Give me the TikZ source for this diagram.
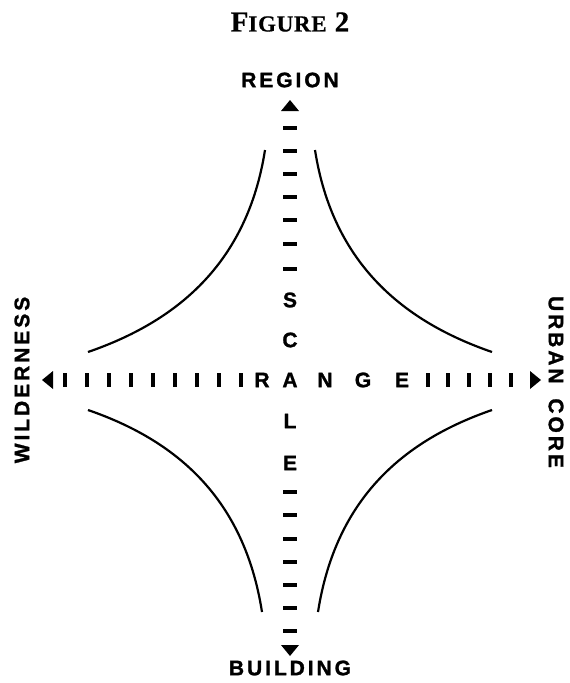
\documentclass[tikz,border=0pt]{standalone}
\usepackage{fontspec}
\setmainfont{Liberation Serif}
\newfontfamily\lab[LetterSpace=14,BoldFeatures={FakeBold=1.3}]{Liberation Sans}
\newfontfamily\axl[BoldFeatures={FakeBold=1.3}]{Liberation Sans}
\newfontfamily\ttl[LetterSpace=3,BoldFeatures={FakeBold=0.6}]{Liberation Serif}
\begin{document}
\begin{tikzpicture}[x=1pt,y=-1pt,
  lbl/.style={font=\lab\bfseries\fontsize{21}{21}\selectfont, inner sep=0pt},
  axlet/.style={font=\axl\bfseries\fontsize{21}{21}\selectfont, inner sep=0pt},
  hmark/.style={line width=3.2pt},
  curv/.style={line width=2.2pt},
  head/.style={fill=black}]
\useasboundingbox (0,0) rectangle (570,683);
% title
\node[inner sep=0pt] (title) at (290,22) {\ttl\bfseries\fontsize{29}{29}\selectfont F\fontsize{23}{23}\selectfont IGURE\fontsize{29}{29}\selectfont{} 2};
% end labels
\node[lbl] (region) at (290,80) {REGION};
\node[lbl] (building) at (290,668) {BUILDING};
\node[lbl, rotate=90] (wild) at (22,380) {WILDERNESS};
\node[lbl, rotate=-90] (urban) at (556,382) {URBAN\hspace{6pt} CORE};
% arrowheads
\coordinate (tT) at (290,100);
\coordinate (tB) at (290,656);
\coordinate (tL) at (42,380);
\coordinate (tR) at (541,380);
\fill[head] (tT) -- ++(-9,11) -- ++(18,0) -- cycle;
\fill[head] (tB) -- ++(-9,-11) -- ++(18,0) -- cycle;
\fill[head] (tL) -- ++(11,-9) -- ++(0,18) -- cycle;
\fill[head] (tR) -- ++(-11,-9) -- ++(0,18) -- cycle;
% vertical dashes
\foreach \y in {128,151,174,197,220,244,269,492,515,539,562,585,608,631}
  \draw[hmark] (283,\y) -- (297,\y);
% horizontal ticks
\foreach \x in {65,87,109,131,153,175,197,219,241,428,448,469,490,511}
  \draw[hmark] (\x,373) -- (\x,387);
% axis letters
\node[axlet] (S) at (290,300) {S};
\node[axlet] (C) at (290,340) {C};
\node[axlet] (A) at (290,380) {A};
\node[axlet] (L) at (290,421) {L};
\node[axlet] (E1) at (290,463) {E};
\node[axlet] (R) at (262,380) {R};
\node[axlet] (N) at (325,380) {N};
\node[axlet] (G) at (363,380) {G};
\node[axlet] (E2) at (402,380) {E};
% curves
\coordinate (c1a) at (265,150); \coordinate (c1b) at (88,352);
\coordinate (c2a) at (315,150); \coordinate (c2b) at (492,352);
\coordinate (c3a) at (88,410);  \coordinate (c3b) at (262,612);
\coordinate (c4a) at (492,410); \coordinate (c4b) at (318,612);
\draw[curv] (c1a) .. controls (247,265) and (175,322) .. (c1b);
\draw[curv] (c2a) .. controls (333,265) and (405,322) .. (c2b);
\draw[curv] (c3a) .. controls (175,440) and (244,497) .. (c3b);
\draw[curv] (c4a) .. controls (405,440) and (336,497) .. (c4b);
\end{tikzpicture}
\end{document}
